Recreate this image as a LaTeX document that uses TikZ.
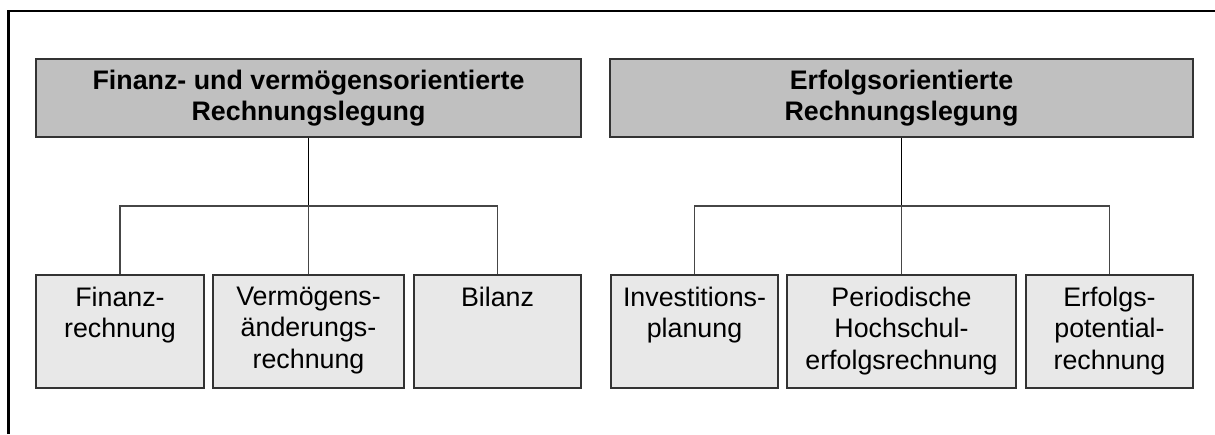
\documentclass[tikz,border=0pt]{standalone}
\usepackage{fontspec}
\setmainfont{Liberation Sans}
\definecolor{hdrfill}{RGB}{192,192,192}
\definecolor{leaffill}{RGB}{232,232,232}
\definecolor{edgegray}{RGB}{51,51,51}
\definecolor{linkgray}{RGB}{70,70,70}
\begin{document}
\begin{tikzpicture}[x=1pt,y=-1pt,
  hdrbox/.style={draw=edgegray, line width=1.5pt, fill=hdrfill, inner sep=0pt,
    minimum height=78pt, align=center,
    font=\fontsize{26.8}{31.5}\selectfont\bfseries},
  leafbox/.style={draw=edgegray, line width=1.5pt, fill=leaffill, inner sep=0pt,
    minimum height=113pt},
  leaftext/.style={anchor=north, inner sep=0pt, align=center,
    font=\fontsize{26.8}{31.5}\selectfont},
  stem/.style={draw=black, line width=1.6pt},
  branch/.style={draw=linkgray, line width=1.5pt}
]
\useasboundingbox (0,0) rectangle (1215,434);
% frame (top and left edges)
\draw[line width=2.2pt] (8.5,434) -- (8.5,10.7) -- (1215,10.7);

% left group
\node[hdrbox, minimum width=545pt] (h1) at (308.5,98) {Finanz- und vermögensorientierte\\Rechnungslegung};
\node[leafbox, minimum width=168pt] (b1) at (120,331.5) {};
\node[leafbox, minimum width=191pt] (b2) at (308.5,331.5) {};
\node[leafbox, minimum width=167pt] (b3) at (497.5,331.5) {};
\node[leaftext] (t1) at ([yshift=-12.5pt]b1.north) {Finanz-\\rechnung};
\node[leaftext] (t2) at ([yshift=-12.5pt]b2.north) {Vermögens-\\änderungs-\\rechnung};
\node[leaftext] (t3) at ([yshift=-12.5pt]b3.north) {Bilanz};
\coordinate (j1) at (308.5,206);
\draw[stem] (h1.south) -- (j1);
\draw[branch] (b1.north) |- (j1) -| (b3.north);
\draw[branch] (j1) -- (b2.north);

% right group
\node[hdrbox, minimum width=583pt] (h2) at (901.5,98) {Erfolgsorientierte\\Rechnungslegung};
\node[leafbox, minimum width=167pt] (b4) at (694.5,331.5) {};
\node[leafbox, minimum width=229pt] (b5) at (901.5,331.5) {};
\node[leafbox, minimum width=167pt] (b6) at (1109.5,331.5) {};
\node[leaftext] (t4) at ([yshift=-12.5pt]b4.north) {Investitions-\\planung};
\node[leaftext] (t5) at ([yshift=-12.5pt]b5.north) {Periodische\\Hochschul-\\erfolgsrechnung};
\node[leaftext] (t6) at ([yshift=-12.5pt]b6.north) {Erfolgs-\\potential-\\rechnung};
\coordinate (j2) at (901.5,206);
\draw[stem] (h2.south) -- (j2);
\draw[branch] (b4.north) |- (j2) -| (b6.north);
\draw[branch] (j2) -- (b5.north);
\end{tikzpicture}
\end{document}
